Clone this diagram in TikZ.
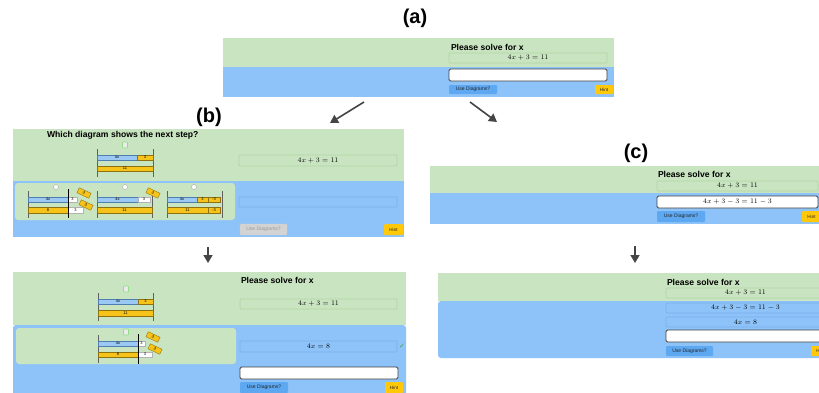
\documentclass[tikz,border=0pt]{standalone}
\usepackage{fontspec}
\setsansfont{Liberation Sans}
\newfontfamily\dejavu{DejaVu Sans}
\usetikzlibrary{arrows.meta}
\definecolor{pg}{HTML}{C9E4C1}
\definecolor{pgb}{HTML}{B2D7A4}
\definecolor{pb}{HTML}{8EC3F9}
\definecolor{pbb}{HTML}{78AEE8}
\definecolor{ub}{HTML}{5DA8F1}
\definecolor{hy}{HTML}{FFC90A}
\definecolor{gb}{HTML}{D3D3D3}
\definecolor{barb}{HTML}{9CC8F4}
\definecolor{barbd}{HTML}{4F7FB0}
\definecolor{bary}{HTML}{F6C31A}
\definecolor{baryd}{HTML}{8E7210}
\definecolor{post}{HTML}{606060}
\definecolor{arrc}{HTML}{454545}
\definecolor{chk}{HTML}{3DA53D}
\newcommand\rect[7]{\node[#1, minimum width={#4-#3}, minimum height={#6-#5}, anchor=north west] (#2) at (#3,#5) {#7};}
\newcommand\eqf{\fontsize{6.6}{7}\selectfont}
\newcommand\blbl{\sffamily\fontsize{4}{4}\selectfont}
\tikzset{
  base/.style={inner sep=0pt, outer sep=0pt},
  gpanel/.style={base, fill=pg},
  bpanel/.style={base, fill=pb},
  ipanel/.style={base, fill=pg, rounded corners=3pt},
  eqg/.style={base, fill=pg, draw=pgb, line width=0.8pt, rounded corners=1pt, font=\eqf},
  eqb/.style={base, fill=pb, draw=pbb, line width=0.6pt, rounded corners=1pt, font=\eqf},
  inp/.style={base, fill=white, draw=black!75, line width=0.9pt, rounded corners=1.5pt, font=\eqf},
  ubtn/.style={base, fill=ub, rounded corners=1pt, font=\sffamily\fontsize{5}{5}\selectfont, text=black!85},
  gbtn/.style={base, fill=gb, draw=black!20, line width=0.4pt, rounded corners=1pt, font=\sffamily\fontsize{5}{5}\selectfont, text=black!40},
  hbtn/.style={base, fill=hy, rounded corners=1pt, font=\sffamily\fontsize{4.6}{5}\selectfont, text=black!85},
  ptitle/.style={base, anchor=west, font=\sffamily\bfseries\fontsize{8.6}{9}\selectfont},
  lbl/.style={base, font=\sffamily\bfseries\fontsize{20}{22}\selectfont},
  bb/.style={base, fill=barb, draw=barbd, line width=0.35pt, font=\blbl},
  yb/.style={base, fill=bary, draw=baryd, line width=0.35pt, font=\blbl},
  wb/.style={base, fill=white, draw=black!30, line width=0.35pt, font=\blbl},
  tilt/.style={base, fill=bary, draw=baryd, line width=0.35pt, minimum width=13pt, minimum height=5.5pt, rotate=-25, font=\blbl},
  icon/.style={base, fill=black!8, draw=pgb!80!green, line width=0.6pt, rounded corners=0.8pt, minimum width=5pt, minimum height=6pt},
  radio/.style={base, circle, fill=white, draw=black!35, line width=0.4pt, minimum size=5pt},
  postl/.style={draw=post, line width=1pt},
  divl/.style={draw=black, line width=0.8pt},
  arr/.style={draw=arrc, line width=1.6pt, -{Triangle[length=8pt, width=9pt]}},
}
\begin{document}
\begin{tikzpicture}[x=1pt, y=-1pt]
\clip (0,0) rectangle (819,392);
\fill[white] (0,0) rectangle (819,392);

% ---------------- (a)
\node[lbl] (la) at (415,18) {(a)};
\rect{gpanel}{aG}{223}{614}{38}{67}{}
\rect{bpanel}{aB}{223}{614}{67}{97}{}
\node[ptitle] (aT) at (451,47) {Please solve for x};
\rect{eqg}{aE}{449}{607}{53}{63}{$4x+3=11$}
\rect{inp}{aI}{449}{607}{69}{81}{}
\rect{ubtn}{aU}{449}{497}{85}{94}{Use Diagrams?}
\rect{hbtn}{aH}{595}{613}{85}{94}{Hint}

% arrows from (a)
\coordinate (abS) at (364,102);
\coordinate (abE) at (330,123);
\draw[arr] (abS) -- (abE);
\coordinate (acS) at (470,102);
\coordinate (acE) at (497,122);
\draw[arr] (acS) -- (acE);

% ---------------- (b) top
\node[lbl] (lb) at (209,117) {(b)};
\rect{gpanel}{bG}{13}{404}{129}{181}{}
\rect{bpanel}{bB}{13}{404}{181}{237}{}
\node[ptitle] (bT) at (47,135) {Which diagram shows the next step?};
\rect{eqg}{bE}{239}{397}{155}{166}{$4x+3=11$}
\rect{ipanel}{bP}{15}{235}{183}{220}{}
\rect{eqb}{bX}{239}{397}{197}{207}{}
\rect{gbtn}{bU}{240}{287}{224}{235}{Use Diagrams?}
\rect{hbtn}{bH}{384}{403}{224}{235}{Hint}
% top diagram
\node[icon] (bI) at (125,145) {};
\draw[postl] (97,149) -- (97,177);
\draw[postl] (153,149) -- (153,177);
\rect{bb}{b1a}{97}{137}{155}{160}{4x}
\rect{yb}{b1b}{137}{153}{155}{160}{3}
\rect{yb}{b1c}{97}{153}{166}{171}{11}
% radio buttons
\node[radio] (bR1) at (56,187) {};
\node[radio] (bR2) at (125,187) {};
\node[radio] (bR3) at (194,187) {};
% choice 1
\draw[postl] (28,191) -- (28,218);
\rect{bb}{c1a}{28}{68}{197}{202}{4x}
\rect{wb}{c1b}{68}{77}{197}{202}{3}
\rect{yb}{c1c}{28}{68}{207}{213}{8}
\rect{wb}{c1d}{68}{83}{207}{213}{3}
\draw[divl] (68,189) -- (68,218);
\node[tilt] (c1e) at (84,193) {3};
\node[tilt] (c1f) at (86,205) {3};
% choice 2
\draw[postl] (97,191) -- (97,218);
\draw[postl] (152,191) -- (152,218);
\rect{bb}{c2a}{97}{138}{197}{202}{4x}
\rect{wb}{c2b}{138}{150}{197}{202}{3}
\rect{yb}{c2c}{97}{152}{207}{213}{11}
\node[tilt] (c2e) at (153,193) {3};
% choice 3
\draw[postl] (167,191) -- (167,218);
\draw[postl] (222,191) -- (222,218);
\rect{bb}{c3a}{167}{197}{197}{202}{4x}
\rect{yb}{c3b}{197}{208}{197}{202}{3}
\rect{yb}{c3c}{208}{220}{197}{202}{-3}
\rect{yb}{c3d}{167}{208}{207}{213}{11}
\rect{yb}{c3e}{208}{220}{207}{213}{-3}

% arrow down (b)
\coordinate (bdS) at (208,247);
\coordinate (bdE) at (208,263);
\draw[arr] (bdS) -- (bdE);

% ---------------- (b) bottom
\rect{gpanel}{dG}{13}{406}{272}{325}{}
\fill[pb, rounded corners=3pt] (13,325) rectangle (406,400);
\node[ptitle] (dT) at (241,280) {Please solve for x};
\rect{eqg}{dE}{240}{397}{299}{309}{$4x+3=11$}
\rect{ipanel}{dP}{16}{236}{328}{364}{}
\rect{eqb}{dX}{240}{397}{341}{352}{$4x=8$}
\node[base, text=chk, font=\dejavu\fontsize{7}{7}\selectfont] (dC) at (402,346) {✓};
\rect{inp}{dI}{240}{398}{367}{379}{}
\rect{ubtn}{dU}{240}{288}{382}{393}{Use Diagrams?}
\rect{hbtn}{dH}{385}{403}{382}{393}{Hint}
% top diagram
\node[icon] (dI1) at (126,289) {};
\draw[postl] (98,293) -- (98,321);
\draw[postl] (153,293) -- (153,321);
\rect{bb}{d1a}{98}{138}{299}{304}{4x}
\rect{yb}{d1b}{138}{153}{299}{304}{3}
\rect{yb}{d1c}{98}{153}{310}{316}{11}
% lower diagram
\node[icon] (dI2) at (126,332) {};
\draw[postl] (98,335) -- (98,363);
\rect{bb}{d2a}{98}{138}{341}{346}{4x}
\rect{wb}{d2b}{138}{145}{341}{346}{3}
\rect{yb}{d2c}{98}{138}{352}{357}{8}
\rect{wb}{d2d}{138}{152}{352}{357}{3}
\draw[divl] (138,334) -- (138,364);
\node[tilt] (d2e) at (153,337) {3};
\node[tilt] (d2f) at (155,349) {3};

% ---------------- (c) top
\node[lbl] (lc) at (636,153) {(c)};
\rect{gpanel}{eG}{430}{830}{166}{193}{}
\rect{bpanel}{eB}{430}{830}{193}{224}{}
\node[ptitle] (eT) at (658,174) {Please solve for x};
\rect{eqg}{eE}{657}{818}{181}{191}{$4x+3=11$}
\rect{inp}{eI}{657}{818}{196}{208}{$4x+3-3=11-3$}
\rect{ubtn}{eU}{657}{705}{211}{222}{Use Diagrams?}
\rect{hbtn}{eH}{802}{821}{211}{222}{Hint}

% arrow down (c)
\coordinate (cdS) at (635,246);
\coordinate (cdE) at (635,263);
\draw[arr] (cdS) -- (cdE);

% ---------------- (c) bottom
\rect{gpanel}{fG}{438}{830}{273}{301}{}
\fill[pb, rounded corners=3pt] (438,301) rectangle (830,358);
\node[ptitle] (fT) at (667,282) {Please solve for x};
\rect{eqg}{fE}{666}{825}{288}{298}{$4x+3=11$}
\rect{eqb}{fX1}{666}{825}{303}{313}{$4x+3-3=11-3$}
\rect{eqb}{fX2}{666}{825}{317}{327}{$4x=8$}
\rect{inp}{fI}{666}{825}{330}{342}{}
\rect{ubtn}{fU}{666}{713}{346}{356}{Use Diagrams?}
\rect{hbtn}{fH}{811}{830}{346}{356}{Hint}
\end{tikzpicture}
\end{document}
